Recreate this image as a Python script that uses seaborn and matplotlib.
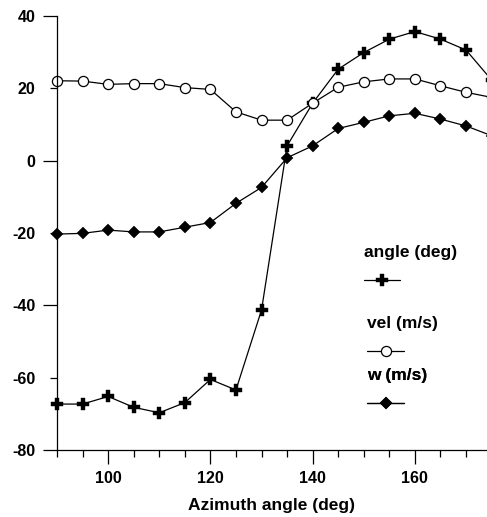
import numpy as np
import pandas as pd
import matplotlib
matplotlib.use("Agg")
import matplotlib.pyplot as plt
from matplotlib.lines import Line2D
import seaborn as sns

azimuth = [90, 95, 100, 105, 110, 115, 120, 125, 130, 135, 140, 145, 150, 155, 160, 165, 170, 175]
angle_deg = [-67.3, -67.3, -65.2, -68.2, -69.7, -66.9, -60.5, -63.4, -41.3, 4.1, 15.9, 25.3, 29.9, 33.6, 35.7, 33.6, 30.6, 22.3]
vel_ms = [22.1, 22.0, 21.1, 21.3, 21.3, 20.2, 19.7, 13.5, 11.2, 11.2, 15.9, 20.3, 21.8, 22.6, 22.6, 20.7, 18.9, 17.5]
w_ms = [-20.3, -20.1, -19.2, -19.7, -19.7, -18.4, -17.1, -11.8, -7.4, 0.8, 4.1, 8.9, 10.6, 12.4, 13.1, 11.5, 9.6, 6.9]
series_labels = ["angle (deg)", "vel (m/s)", "w (m/s)"]
x_label = "Azimuth angle (deg)"
x_major = [100, 120, 140, 160]
x_minor = [90, 95, 105, 110, 115, 125, 130, 135, 145, 150, 155, 165, 170]
y_major = [-80, -40, 0, 40]
y_minor = [-60, -20, 20]

sns.set_style("ticks")
plt.rcParams["font.family"] = ["Liberation Sans", "DejaVu Sans"]
plt.rcParams["font.weight"] = "bold"
plt.rcParams["axes.unicode_minus"] = False
for key in ["text.color", "axes.labelcolor", "xtick.color", "ytick.color", "axes.edgecolor"]:
    plt.rcParams[key] = "black"

df = pd.DataFrame({"azimuth": azimuth, "angle": angle_deg, "vel": vel_ms, "w": w_ms})

fig = plt.figure(figsize=(4.87, 5.17), dpi=100)
ax = fig.add_axes([57 / 487, 1 - 450 / 517, 1 - 57 / 487, 434 / 517])

styles = {
    "angle": dict(marker="P", markersize=8.8, markerfacecolor="black", markeredgecolor="black", markeredgewidth=0.3),
    "vel": dict(marker="o", markersize=7.3, markerfacecolor="white", markeredgecolor="black", markeredgewidth=0.9),
    "w": dict(marker="D", markersize=6.0, markerfacecolor="black", markeredgecolor="black", markeredgewidth=0.3),
}

handles = []
for col in ["angle", "vel", "w"]:
    sns.lineplot(data=df, x="azimuth", y=col, ax=ax, color="black", linewidth=0.9,
                 sort=False, clip_on=False, **styles[col])
    handles.append(Line2D([], [], color="black", linewidth=0.9, **styles[col]))

ax.set_xlim(90, 174.1)
ax.set_ylim(-80, 40)

ax.set_xticks(x_major)
ax.set_xticklabels([str(v) for v in x_major])
ax.set_xticks(x_minor, minor=True)
ax.set_yticks(y_major)
ax.set_yticklabels([str(v) for v in y_major])
ax.set_yticks(y_minor, minor=True)
ax.set_yticklabels([str(v) for v in y_minor], minor=True)

ax.tick_params(axis="y", which="major", direction="out", length=10, width=0.9, pad=5.5, labelsize=11.5)
ax.tick_params(axis="y", which="minor", direction="out", length=5, width=0.9, pad=10.5, labelsize=11.5)
ax.tick_params(axis="x", which="major", direction="out", length=10, width=0.9, pad=5, labelsize=11.5)
ax.tick_params(axis="x", which="minor", direction="out", length=5, width=0.9)
for lab in (ax.get_xticklabels() + ax.get_yticklabels() + ax.get_yticklabels(minor=True)):
    lab.set_fontweight("bold")

sns.despine(ax=ax)
for s in ["left", "bottom"]:
    ax.spines[s].set_linewidth(0.9)

ax.set_xlabel(x_label, fontsize=12.5, fontweight="bold", labelpad=9)
ax.set_ylabel("")

# One small legend per series, the series name sitting above its symbol
anchors = [(0.714, 0.473), (0.722, 0.309), (0.722, 0.189)]
for h, lab, anc in zip(handles, series_labels, anchors):
    leg = ax.legend(handles=[h], labels=[""], title=lab, loc="upper left",
                    bbox_to_anchor=anc, frameon=False, handlelength=2.6,
                    borderpad=0, borderaxespad=0, handletextpad=0,
                    title_fontproperties={"weight": "bold", "size": 12.5},
                    alignment="left", labelspacing=1.0)
    ax.add_artist(leg)

fig.savefig("out.png", dpi=100)
